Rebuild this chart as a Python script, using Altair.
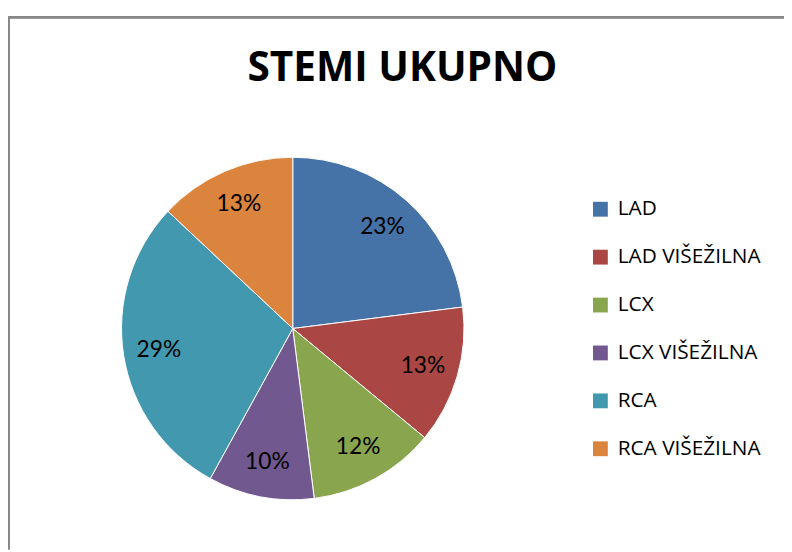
import altair as alt
import pandas as pd

categories = ["LAD", "LAD VIŠEŽILNA", "LCX", "LCX VIŠEŽILNA", "RCA", "RCA VIŠEŽILNA"]
values = [23, 13, 12, 10, 29, 13]
colors = ["#4572A7", "#AA4643", "#89A54E", "#71588F", "#4198AF", "#DB843D"]
title_text = ["STEMI UKUPNO"]

df = pd.DataFrame({
    "cat": categories,
    "val": values,
    "ord": list(range(len(categories))),
    "lbl": [f"{v}%" for v in values],
})
tdf = pd.DataFrame({"t": title_text})

W, H = 784, 544
CX, CY = 287.7, 321
R = 173

base = alt.Chart(df).encode(
    theta=alt.Theta("val:Q", stack=True),
    order=alt.Order("ord:Q", sort="ascending"),
)

pie = base.mark_arc(outerRadius=R, stroke="white", strokeWidth=1).encode(
    x=alt.value(CX),
    y=alt.value(CY),
    color=alt.Color(
        "cat:N",
        scale=alt.Scale(domain=categories, range=colors),
        sort=categories,
        legend=alt.Legend(
            title=None,
            orient="none",
            legendX=588,
            legendY=190,
            symbolType="square",
            symbolSize=225,
            symbolStrokeWidth=0,
            labelFont="Open Sans",
            labelFontSize=21,
            labelColor="#000000",
            labelOffset=7,
            rowPadding=26.4,
            padding=0,
            labelLimit=300,
        ),
    ),
)

labels = base.mark_text(radius=137, font="Lato", fontSize=23, color="#000000").encode(
    x=alt.value(CX),
    y=alt.value(CY),
    text="lbl:N",
)

title = alt.Chart(tdf).mark_text(
    font="Open Sans", fontSize=41, fontWeight="bold", color="#000000",
    align="center", baseline="alphabetic",
).encode(
    x=alt.value(398.5), y=alt.value(71.3), text="t:N"
)

frame_left = alt.Chart(df).mark_rule(color="#888888", strokeWidth=2).encode(
    x=alt.value(0.5), y=alt.value(6.5), y2=alt.value(H)
)
frame_top = alt.Chart(df).mark_rule(color="#888888", strokeWidth=2).encode(
    x=alt.value(0.5), x2=alt.value(W), y=alt.value(6.5)
)

chart = alt.layer(frame_left, frame_top, pie, labels, title).properties(
    width=W,
    height=H,
    autosize=alt.AutoSizeParams(type="none"),
    padding=0,
).configure_view(stroke=None)

chart.save("out.html", embed_options={"renderer": "svg", "actions": False})
